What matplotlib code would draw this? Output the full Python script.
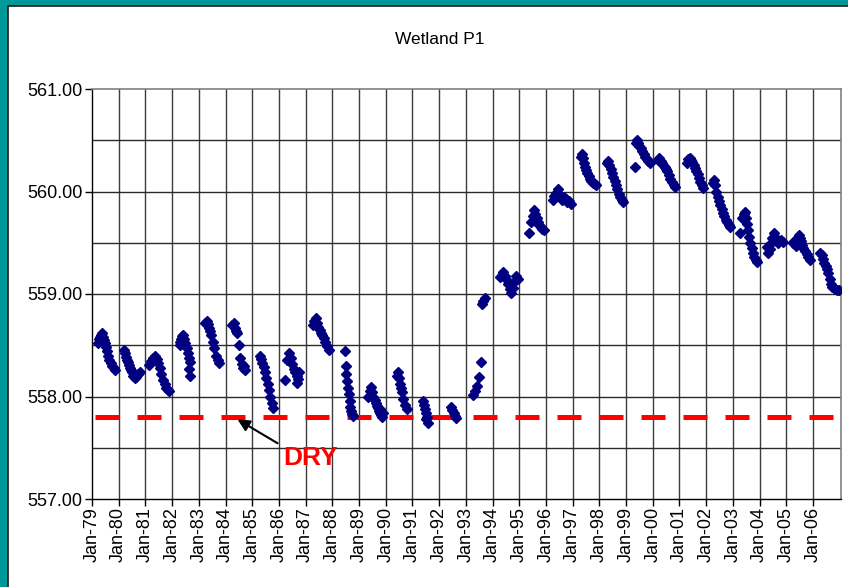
import matplotlib
matplotlib.use("Agg")
import matplotlib.pyplot as plt
from matplotlib.patches import Rectangle

plt.rcParams['font.family'] = ['Liberation Sans', 'DejaVu Sans']

# ---- data (decimal year, water level) ----
obs_time = [
    1979.22,1979.26,1979.30,1979.33,1979.36,1979.40,1979.44,1979.48,1979.52,1979.56,1979.60,1979.65,1979.70,1979.76,1979.82,1979.88,
    1980.18,1980.22,1980.26,1980.30,1980.34,1980.38,1980.42,1980.46,1980.50,1980.55,1980.60,1980.66,1980.72,1980.78,
    1981.15,1981.22,1981.30,1981.36,1981.42,1981.48,1981.54,1981.60,1981.66,1981.72,1981.78,1981.84,1981.90,
    1982.28,1982.31,1982.34,1982.37,1982.40,1982.44,1982.48,1982.54,1982.60,1982.64,1982.68,1982.62,1982.66,
    1983.25,1983.29,1983.33,1983.37,1983.42,1983.47,1983.52,1983.58,1983.64,1983.70,1983.76,
    1984.26,1984.30,1984.34,1984.38,1984.44,1984.50,1984.56,1984.62,1984.66,1984.70,1984.74,
    1985.28,1985.33,1985.38,1985.43,1985.48,1985.53,1985.58,1985.63,1985.68,1985.73,1985.78,
    1986.22,1986.32,1986.38,1986.44,1986.50,1986.56,1986.62,1986.68,1986.72,1986.66,1986.74,
    1987.28,1987.33,1987.38,1987.43,1987.48,1987.53,1987.58,1987.63,1987.68,1987.74,1987.80,1987.86,
    1988.47,1988.50,1988.53,1988.56,1988.59,1988.62,1988.65,1988.68,1988.71,1988.74,1988.77,
    1989.34,1989.40,1989.46,1989.50,1989.54,1989.58,1989.62,1989.66,1989.70,1989.74,1989.78,1989.82,1989.86,1989.90,1989.80,
    1990.42,1990.46,1990.50,1990.54,1990.58,1990.62,1990.66,1990.72,1990.78,
    1991.40,1991.44,1991.48,1991.52,1991.56,1991.60,1991.50,
    1992.45,1992.50,1992.55,1992.60,1992.64,
    1993.28,1993.33,1993.42,1993.50,1993.58,1993.62,1993.66,1993.70,
    1994.28,1994.34,1994.40,1994.46,1994.52,1994.58,1994.64,1994.70,1994.76,1994.82,1994.88,1994.94,
    1995.36,1995.45,1995.50,1995.55,1995.60,1995.65,1995.70,1995.75,1995.80,1995.86,1995.92,
    1996.27,1996.32,1996.38,1996.44,1996.50,1996.56,1996.62,1996.68,1996.74,1996.80,1996.86,1996.92,
    1997.30,1997.34,1997.38,1997.42,1997.46,1997.50,1997.55,1997.60,1997.65,1997.70,1997.76,1997.82,1997.88,
    1998.29,1998.33,1998.37,1998.42,1998.47,1998.52,1998.57,1998.62,1998.67,1998.72,1998.78,1998.84,1998.89,
    1999.33,1999.38,1999.42,1999.46,1999.50,1999.55,1999.60,1999.66,1999.72,1999.78,1999.84,1999.90,
    2000.20,2000.25,2000.30,2000.35,2000.40,2000.45,2000.50,2000.55,2000.60,2000.66,2000.72,2000.78,2000.84,
    2001.28,2001.33,2001.38,2001.43,2001.48,2001.53,2001.58,2001.63,2001.68,2001.73,2001.78,2001.84,2001.90,
    2002.24,2002.28,2002.33,2002.38,2002.43,2002.48,2002.53,2002.58,2002.63,2002.68,2002.73,2002.78,2002.84,2002.90,
    2003.27,2003.36,2003.42,2003.46,2003.50,2003.54,2003.58,2003.62,2003.66,2003.70,2003.75,2003.80,2003.85,2003.90,
    2004.28,2004.33,2004.38,2004.43,2004.48,2004.53,2004.58,2004.63,2004.68,2004.74,2004.80,2004.86,
    2005.24,2005.30,2005.36,2005.42,2005.48,2005.52,2005.56,2005.60,2005.64,2005.70,2005.76,2005.82,2005.88,
    2006.28,2006.33,2006.38,2006.43,2006.48,2006.53,2006.58,2006.63,2006.68,2006.73,2006.78,2006.84,2006.90,2006.96,
]
obs_level = [
    558.52,558.56,558.58,558.60,558.62,558.58,558.55,558.52,558.48,558.44,558.40,558.36,558.33,558.30,558.28,558.26,
    558.45,558.42,558.39,558.36,558.34,558.31,558.28,558.26,558.24,558.20,558.18,558.19,558.22,558.24,
    558.31,558.35,558.38,558.40,558.37,558.33,558.28,558.22,558.16,558.12,558.08,558.06,558.05,
    558.50,558.53,558.56,558.59,558.60,558.56,558.52,558.47,558.42,558.38,558.34,558.27,558.20,
    558.72,558.74,558.71,558.67,558.64,558.60,558.53,558.47,558.40,558.36,558.33,
    558.70,558.72,558.67,558.64,558.62,558.50,558.38,558.32,558.28,558.30,558.26,
    558.40,558.37,558.33,558.29,558.24,558.18,558.12,558.06,558.00,557.94,557.89,
    558.16,558.36,558.42,558.38,558.32,558.27,558.24,558.20,558.17,558.13,558.24,
    558.70,558.74,558.77,558.72,558.68,558.65,558.62,558.60,558.57,558.53,558.49,558.45,
    558.44,558.30,558.22,558.15,558.08,558.02,557.96,557.90,557.86,557.83,557.81,
    558.00,558.05,558.09,558.04,558.00,557.97,557.94,557.91,557.89,557.86,557.84,557.82,557.80,557.84,557.88,
    558.20,558.24,558.18,558.12,558.08,558.04,557.98,557.92,557.88,
    557.96,557.92,557.88,557.84,557.80,557.74,557.78,
    557.90,557.87,557.84,557.81,557.79,
    558.01,558.05,558.10,558.19,558.34,558.90,558.93,558.96,
    559.17,559.19,559.21,559.18,559.15,559.10,559.05,559.01,559.06,559.12,559.18,559.15,
    559.60,559.70,559.76,559.82,559.78,559.74,559.70,559.67,559.65,559.63,559.62,
    559.92,559.96,559.99,560.02,559.98,559.95,559.92,559.95,559.93,559.90,559.91,559.88,
    560.34,560.37,560.33,560.28,560.24,560.21,560.18,560.15,560.12,560.10,560.08,560.07,560.06,
    560.28,560.30,560.26,560.22,560.18,560.14,560.10,560.06,560.02,559.98,559.95,559.92,559.90,
    560.24,560.47,560.50,560.47,560.44,560.42,560.40,560.37,560.34,560.32,560.30,560.28,
    560.31,560.33,560.30,560.28,560.26,560.24,560.22,560.20,560.16,560.12,560.09,560.06,560.04,
    560.28,560.32,560.33,560.31,560.29,560.26,560.23,560.20,560.17,560.13,560.09,560.06,560.03,
    560.08,560.11,560.06,560.00,559.95,559.91,559.87,559.83,559.79,559.76,559.72,559.70,559.67,559.65,
    559.60,559.74,559.78,559.80,559.74,559.68,559.62,559.56,559.50,559.45,559.40,559.36,559.33,559.31,
    559.46,559.40,559.44,559.50,559.55,559.60,559.56,559.52,559.50,559.52,559.53,559.51,
    559.50,559.52,559.47,559.54,559.58,559.55,559.52,559.48,559.45,559.42,559.39,559.36,559.33,
    559.40,559.38,559.34,559.30,559.27,559.24,559.20,559.15,559.10,559.07,559.06,559.05,559.04,559.04,
]
tick_years = list(range(1979, 2007))
tick_labels = ["Jan-%02d" % (y % 100) for y in tick_years]
dry_level = 557.8
y_ticks = [557.0, 558.0, 559.0, 560.0, 561.0]
title = "Wetland P1"

# ---- figure ----
W, H = 848, 587
fig = plt.figure(figsize=(W / 100, H / 100), dpi=100)
fig.patch.set_facecolor('#009999')
fig.patches.append(Rectangle((8 / W, -0.05), 1.2, 1.05 - 6 / H,
                             transform=fig.transFigure, facecolor='white',
                             edgecolor='#1a1a1a', linewidth=1.2, zorder=-10))

ax = fig.add_axes([92 / W, 1 - 499 / H, (841 - 92) / W, (499 - 89) / H])
ax.set_zorder(5)
ax.set_facecolor('white')
ax.set_xlim(1979.0, 2007.05)
ax.set_ylim(557.0, 561.0)

# grid
for yr in tick_years[1:]:
    ax.axvline(yr, color='#3c3c3c', lw=1.0, zorder=1)
for yv in [557.5, 558.0, 558.5, 559.0, 559.5, 560.0, 560.5]:
    ax.axhline(yv, color='#2a2a2a', lw=1.0, zorder=1)

ax.set_xticks(tick_years)
ax.set_xticklabels(tick_labels, rotation=90, fontsize=13)
ax.set_yticks(y_ticks)
ax.set_yticklabels(["%.2f" % v for v in y_ticks], fontsize=13)
ax.tick_params(axis='both', direction='out', length=5, width=1, color='black', pad=2)
ax.tick_params(axis='x', pad=1)

for s in ['left', 'bottom']:
    ax.spines[s].set_color('black')
    ax.spines[s].set_linewidth(1.0)
for s in ['top', 'right']:
    ax.spines[s].set_color('#808080')
    ax.spines[s].set_linewidth(1.2)

# dry line
ax.axhline(dry_level, xmin=3 / 749, xmax=1.0, color='#ff0000', lw=3.6,
           dashes=(4.8, 3.6), zorder=2)

# observations
ax.plot(obs_time, obs_level, linestyle='none', marker='D', markersize=4.6,
        color='#000080', markeredgecolor='#000080', zorder=3)

# DRY annotation
ax.annotate('', xy=(1984.36, 557.79), xytext=(1986.04, 557.53),
            arrowprops=dict(arrowstyle='-|>', color='black', lw=1.5,
                            mutation_scale=18), zorder=4)
ax.text(1986.15, 557.40, 'DRY', color='#ff0000', fontsize=19, fontweight='bold',
        ha='left', va='center', zorder=4)

fig.text(440 / W, 1 - 40 / H, title, ha='center', va='center', fontsize=12.5)

fig.savefig('out.png', dpi=100, facecolor=fig.get_facecolor())
